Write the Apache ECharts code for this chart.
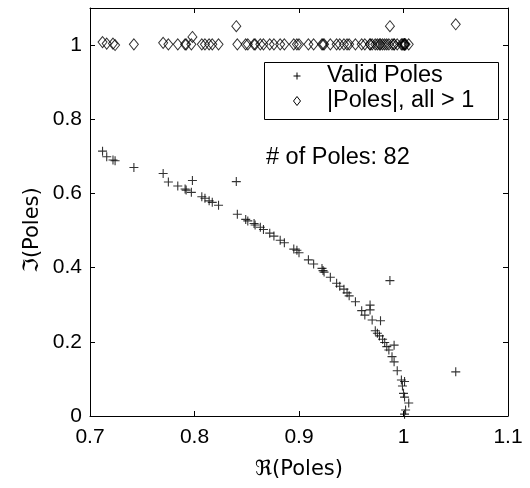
<!DOCTYPE html>
<html>
<head>
<meta charset="utf-8">
<script src="https://cdn.jsdelivr.net/npm/echarts@6/dist/echarts.min.js"></script>
<style>
  html, body { margin: 0; padding: 0; background: #fff; }
  #chart { width: 530px; height: 488px; }
</style>
</head>
<body>
<div id="chart"></div>
<script>
// Real and imaginary parts of the identified poles, and their magnitudes
const poleRe = [
  0.712, 0.716, 0.722, 0.724, 0.742, 0.770, 0.775, 0.784, 0.791, 0.792,
  0.797, 0.798, 0.807, 0.840, 0.810, 0.814, 0.817, 0.823, 0.841, 0.849,
  0.851, 0.857, 0.858, 0.863, 0.866, 0.872, 0.876, 0.882, 0.886, 0.895,
  0.898, 0.900, 0.909, 0.914, 0.922, 0.923, 0.924, 0.930, 0.936, 0.939,
  0.943, 0.946, 0.948, 0.954, 0.960, 0.968, 0.968, 0.963, 0.970, 0.978,
  0.973, 0.975, 0.977, 0.980, 0.982, 0.991, 0.984, 0.986, 0.989, 0.991,
  0.994, 0.998, 1.001, 0.999, 1.000, 1.001, 1.005, 1.002, 1.001, 0.987,
  1.050
];
const poleIm = [
  0.714, 0.699, 0.690, 0.688, 0.670, 0.654, 0.631, 0.620, 0.612, 0.609,
  0.603, 0.635, 0.591, 0.632, 0.587, 0.580, 0.576, 0.568, 0.544, 0.530,
  0.526, 0.519, 0.515, 0.509, 0.503, 0.493, 0.485, 0.474, 0.467, 0.450,
  0.447, 0.440, 0.421, 0.410, 0.398, 0.392, 0.388, 0.374, 0.358, 0.350,
  0.342, 0.332, 0.324, 0.308, 0.284, 0.299, 0.286, 0.272, 0.259, 0.257,
  0.230, 0.223, 0.216, 0.207, 0.198, 0.191, 0.187, 0.178, 0.160, 0.146,
  0.122, 0.097, 0.093, 0.081, 0.061, 0.051, 0.035, 0.016, 0.005, 0.365,
  0.119
];
const poleAbs = [
  1.008, 1.004, 1.004, 1.000, 1.002, 1.006, 1.002, 1.002, 1.002, 1.002,
  1.002, 1.022, 1.002, 1.051, 1.002, 1.002, 1.002, 1.002, 1.002, 1.002,
  1.002, 1.002, 1.002, 1.002, 1.002, 1.002, 1.002, 1.002, 1.002, 1.002,
  1.002, 1.002, 1.002, 1.002, 1.002, 1.002, 1.002, 1.002, 1.002, 1.002,
  1.002, 1.002, 1.002, 1.002, 1.002, 1.002, 1.002, 1.002, 1.002, 1.002,
  1.002, 1.002, 1.002, 1.002, 1.002, 1.002, 1.002, 1.002, 1.002, 1.002,
  1.002, 1.002, 1.002, 1.002, 1.002, 1.002, 1.002, 1.002, 1.002, 1.051,
  1.056
];
const poleCount = 82;

// Tick labels shown on the axes
const xTickLabels = ['0.7', '0.8', '0.9', '1', '1.1'];
const yTickLabels = ['0', '0.2', '0.4', '0.6', '0.8', '1'];

const legendNames = ['Valid Poles', '|Poles|, all > 1'];

const FONT = '"Liberation Sans", Arial, Helvetica, "DejaVu Sans", sans-serif';
const FONT_SYM = '"DejaVu Sans", "Liberation Sans", sans-serif';

function tickFormatter(labels) {
  return function (v) {
    const s = String(+v.toFixed(2));
    return labels.indexOf(s) >= 0 ? s : '';
  };
}

const lineStyle = { color: '#000', width: 1 };
const tickStyle = { show: true, inside: true, length: 5, lineStyle: lineStyle };

const chart = echarts.init(document.getElementById('chart'), null, { renderer: 'canvas' });

const option = {
  animation: false,
  backgroundColor: '#fff',
  grid: { left: 90, right: 22, top: 8, bottom: 72 },
  xAxis: [
    {
      type: 'value', min: 0.7, max: 1.1, interval: 0.1, position: 'bottom',
      axisLine: { show: true, onZero: false, lineStyle: lineStyle },
      axisTick: tickStyle,
      splitLine: { show: false },
      axisLabel: {
        color: '#000', fontSize: 21, fontFamily: FONT, margin: 11,
        formatter: tickFormatter(xTickLabels)
      },
      name: '\u211C(Poles)', nameLocation: 'middle', nameGap: 43,
      nameTextStyle: { color: '#000', fontSize: 21, fontFamily: FONT_SYM }
    },
    {
      type: 'value', min: 0.7, max: 1.1, interval: 0.1, position: 'top',
      axisLine: { show: true, onZero: false, lineStyle: lineStyle },
      axisTick: tickStyle,
      splitLine: { show: false },
      axisLabel: { show: false }
    }
  ],
  yAxis: [
    {
      type: 'value', min: 0, max: 1.1, interval: 0.2, position: 'left',
      axisLine: { show: true, onZero: false, lineStyle: lineStyle },
      axisTick: tickStyle,
      splitLine: { show: false },
      axisLabel: {
        color: '#000', fontSize: 21, fontFamily: FONT, margin: 8,
        formatter: tickFormatter(yTickLabels)
      }
    },
    {
      type: 'value', min: 0, max: 1.1, interval: 0.2, position: 'right',
      axisLine: { show: true, onZero: false, lineStyle: lineStyle },
      axisTick: tickStyle,
      splitLine: { show: false },
      axisLabel: { show: false }
    }
  ],
  series: [
    {
      name: legendNames[0],
      type: 'scatter',
      xAxisIndex: 0, yAxisIndex: 0,
      data: poleRe.map(function (x, i) { return [x, poleIm[i]]; }),
      symbol: 'path://M5,0L5,10M0,5L10,5',
      symbolSize: 9,
      itemStyle: { color: 'rgba(0,0,0,0)', borderColor: '#000', borderWidth: 1.1 },
      emphasis: { disabled: true },
      z: 3
    },
    {
      name: legendNames[1],
      type: 'scatter',
      xAxisIndex: 0, yAxisIndex: 0,
      data: poleRe.map(function (x, i) { return [x, poleAbs[i]]; }),
      symbol: 'diamond',
      symbolSize: [9, 11],
      itemStyle: { color: 'rgba(0,0,0,0)', borderColor: '#000', borderWidth: 1 },
      emphasis: { disabled: true },
      z: 3
    }
  ],
  graphic: [
    // y-axis title, rotated to read bottom-to-top
    {
      type: 'text', z: 11, x: 33, y: 230, rotation: Math.PI / 2,
      style: { text: '\u2111(Poles)', fill: '#000', fontSize: 21, fontFamily: FONT_SYM, align: 'center', verticalAlign: 'middle' }
    },
    // legend box
    {
      type: 'rect', z: 10,
      shape: { x: 264.5, y: 62.5, width: 234, height: 57 },
      style: { fill: '#fff', stroke: '#000', lineWidth: 1 }
    },
    {
      type: 'polyline', z: 11,
      shape: { points: [[297, 72.5], [297, 79.5]] },
      style: { stroke: '#000', lineWidth: 1, fill: null }
    },
    {
      type: 'polyline', z: 11,
      shape: { points: [[293.5, 76], [300.5, 76]] },
      style: { stroke: '#000', lineWidth: 1, fill: null }
    },
    {
      type: 'polygon', z: 11,
      shape: { points: [[297, 96.5], [300.5, 101], [297, 105.5], [293.5, 101]] },
      style: { stroke: '#000', lineWidth: 1, fill: 'rgba(0,0,0,0)' }
    },
    {
      type: 'text', z: 11, x: 327, y: 76,
      style: { text: legendNames[0], fill: '#000', fontSize: 23.5, fontFamily: FONT, verticalAlign: 'middle' }
    },
    {
      type: 'text', z: 11, x: 327, y: 101,
      style: { text: legendNames[1], fill: '#000', fontSize: 23.5, fontFamily: FONT, verticalAlign: 'middle' }
    },
    {
      type: 'text', z: 11, x: 266, y: 158,
      style: { text: '# of Poles: ' + poleCount, fill: '#000', fontSize: 23.5, fontFamily: FONT, verticalAlign: 'middle' }
    }
  ]
};

chart.setOption(option);
</script>
</body>
</html>
